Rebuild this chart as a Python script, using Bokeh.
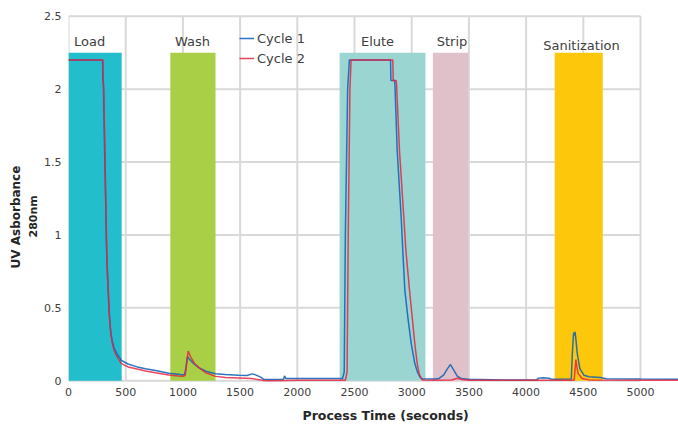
from bokeh.plotting import figure
from bokeh.models import Range1d, FixedTicker, Title
from bokeh.core.properties import value
from bokeh.embed import file_html
from bokeh.resources import INLINE

# ---------------- data ----------------
cycle1_t = [0, 298, 300, 305, 315, 327, 331, 337, 343, 355, 367, 380, 396, 420, 463, 520, 600, 673, 760,
            877, 960, 1000, 1015, 1025, 1040, 1060, 1090, 1139, 1200, 1285, 1372, 1489, 1560, 1605, 1630,
            1680, 1707, 1750, 1880, 1888, 1900, 2000, 2395, 2410, 2420, 2440, 2455, 2815, 2818, 2850, 2853,
            2873, 2908, 2922, 2940, 2966, 2996, 3027, 3050, 3071, 3090, 3200, 3237, 3280, 3310, 3339, 3370,
            3400, 3441, 3500, 3800, 4090, 4110, 4150, 4200, 4215, 4240, 4395, 4405, 4415, 4421, 4428, 4437,
            4447, 4470, 4505, 4550, 4650, 4700, 5000, 5400]
cycle1_uv = [2.2, 2.2, 2.06, 2.04, 1.6, 1.15, 0.95, 0.8, 0.69, 0.48, 0.35, 0.28, 0.23, 0.19, 0.14, 0.115, 0.095,
             0.083, 0.07, 0.052, 0.045, 0.04, 0.045, 0.08, 0.165, 0.145, 0.12, 0.09, 0.065, 0.048, 0.043, 0.038,
             0.036, 0.047, 0.042, 0.025, 0.01, 0.008, 0.01, 0.033, 0.016, 0.015, 0.015, 0.06, 1.0, 2.0, 2.2,
             2.2, 2.06, 2.06, 2.04, 1.58, 1.12, 0.894, 0.62, 0.437, 0.255, 0.118, 0.06, 0.026, 0.013, 0.012,
             0.015, 0.04, 0.08, 0.111, 0.07, 0.03, 0.013, 0.01, 0.006, 0.006, 0.018, 0.02, 0.017, 0.012, 0.01,
             0.012, 0.2, 0.33, 0.31, 0.335, 0.27, 0.186, 0.083, 0.038, 0.028, 0.022, 0.014, 0.012, 0.01]

cycle2_t = [0, 300, 303, 308, 318, 329, 333, 340, 346, 357, 369, 382, 398, 420, 463, 520, 600, 673, 760, 877,
            960, 1000, 1020, 1030, 1046, 1070, 1100, 1139, 1200, 1285, 1372, 1489, 1600, 1707, 1750, 1900,
            2000, 2420, 2435, 2445, 2460, 2470, 2835, 2838, 2864, 2867, 2893, 2931, 2949, 2981, 3004, 3027,
            3048, 3065, 3077, 3095, 3200, 3350, 3400, 3440, 3500, 4000, 4420, 4426, 4435, 4445, 4455, 4490,
            4550, 5000, 5400]
cycle2_uv = [2.2, 2.2, 2.06, 2.0, 1.6, 1.1, 0.95, 0.75, 0.65, 0.45, 0.33, 0.26, 0.21, 0.17, 0.118, 0.095, 0.08,
             0.067, 0.055, 0.04, 0.033, 0.031, 0.035, 0.1, 0.204, 0.16, 0.12, 0.09, 0.055, 0.03, 0.022, 0.019,
             0.015, 0.002, 0.0, 0.002, 0.003, 0.003, 0.06, 1.0, 2.0, 2.2, 2.2, 2.06, 2.06, 2.04, 1.58, 1.12,
             0.894, 0.62, 0.437, 0.255, 0.118, 0.05, 0.026, 0.005, 0.003, 0.005, 0.017, 0.008, 0.004, 0.003,
             0.004, 0.06, 0.145, 0.09, 0.049, 0.015, 0.006, 0.003, 0.003]

phase_names = ["Load", "Wash", "Elute", "Strip", "Sanitization"]
phase_start = [0, 890, 2370, 3185, 4250]
phase_end = [465, 1285, 3120, 3495, 4670]
phase_top = 2.25
phase_label_x = [184, 1084, 2701, 3352, 4484]
phase_label_y = [2.33, 2.33, 2.33, 2.33, 2.30]

x_ticks = [0, 500, 1000, 1500, 2000, 2500, 3000, 3500, 4000, 4500, 5000]
y_ticks = [0, 0.5, 1, 1.5, 2, 2.5]
y_tick_labels = ["0", "0.5", "1", "1.5", "2", "2.5"]

x_title = "Process Time (seconds)"
y_title_lines = ["UV Asborbance", "280nm"]

# ---------------- styles ----------------
phase_colors = ["#22BECC", "#A8CF45", "#9AD5D2", "#E0C1C9", "#FDC80C"]
blue = "#1565B8"
red = "#E8233F"
grid_color = "#D9D9D9"
font = "DejaVu Sans"

p = figure(width=678, height=429, x_range=Range1d(0, 5332), y_range=Range1d(-0.012, 2.512),
           output_backend="svg", toolbar_location=None,
           min_border_left=68, min_border_right=0, min_border_top=14, min_border_bottom=47)
p.outline_line_color = None
p.grid.visible = False

# grid (stops at 5000 like the reference)
p.segment(x0=x_ticks, y0=[0] * len(x_ticks), x1=x_ticks, y1=[max(y_ticks)] * len(x_ticks),
          line_color=grid_color, line_width=2)
p.segment(x0=[0] * len(y_ticks), y0=y_ticks, x1=[max(x_ticks)] * len(y_ticks), y1=y_ticks,
          line_color=grid_color, line_width=2)

# phase bands
p.quad(left=phase_start, right=phase_end, bottom=[0] * len(phase_start), top=[phase_top] * len(phase_start),
       fill_color=phase_colors, line_color=None)

p.text(x=phase_label_x, y=phase_label_y, text=phase_names, text_align="center", text_baseline="middle",
       text_font=value(font), text_font_size="13px", text_color="#404040")

p.line(cycle1_t, cycle1_uv, line_color=blue, line_width=1.5, line_alpha=0.9, legend_label="Cycle 1")
p.line(cycle2_t, cycle2_uv, line_color=red, line_width=1.5, line_alpha=0.85, legend_label="Cycle 2")

# axes
for ax in (p.xaxis[0], p.yaxis[0]):
    ax.axis_line_color = None
    ax.major_tick_line_color = None
    ax.minor_tick_line_color = None
    ax.major_tick_out = 0
    ax.major_tick_in = 0
    ax.minor_tick_out = 0
    ax.minor_tick_in = 0
    ax.major_label_text_font = font
    ax.major_label_text_font_size = "11px"
    ax.major_label_text_color = "#404040"

p.xaxis.ticker = FixedTicker(ticks=x_ticks)
p.yaxis.ticker = FixedTicker(ticks=y_ticks)
p.yaxis.major_label_overrides = {t: s for t, s in zip(y_ticks, y_tick_labels)}
p.xaxis.major_label_standoff = 5
p.yaxis.major_label_standoff = 7

# axis titles as positioned titles
title_style = dict(text_font=font, text_font_style="bold", text_color="#262626")
p.add_layout(Title(text=x_title, align="left", offset=234, standoff=14, text_font_size="12.5px",
                   **title_style), "below")
p.add_layout(Title(text=y_title_lines[1], align="left", offset=145, standoff=4, text_font_size="11px",
                   **title_style), "left")
p.add_layout(Title(text=y_title_lines[0], align="left", offset=114, standoff=0, text_font_size="12px",
                   **title_style), "left")

# legend
lg = p.legend[0]
lg.location = (171, 316)
lg.background_fill_alpha = 0
lg.border_line_color = None
lg.padding = 0
lg.margin = 0
lg.spacing = 4
lg.glyph_width = 15
lg.glyph_height = 16
lg.label_height = 16
lg.label_standoff = 3
lg.label_text_font = font
lg.label_text_font_size = "13px"
lg.label_text_color = "#404040"

open("out.html", "w").write(file_html(p, INLINE))
